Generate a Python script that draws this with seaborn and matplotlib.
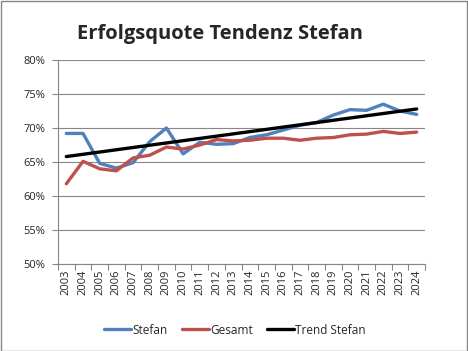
import matplotlib
matplotlib.use("Agg")
import matplotlib.pyplot as plt
import seaborn as sns
import pandas as pd
import numpy as np
from matplotlib.ticker import FuncFormatter, MultipleLocator, FixedLocator

years = list(range(2003, 2025))
stefan = [69.2, 69.2, 64.8, 64.1, 64.9, 68.0, 70.0, 66.2, 67.9, 67.6, 67.7, 68.6,
          69.0, 69.7, 70.4, 70.8, 71.9, 72.7, 72.6, 73.5, 72.5, 72.0]
gesamt = [61.8, 65.1, 64.0, 63.7, 65.6, 66.0, 67.2, 66.9, 67.5, 68.3, 68.1, 68.2,
          68.5, 68.5, 68.2, 68.5, 68.6, 69.0, 69.1, 69.5, 69.2, 69.4]
trend_years = [2003, 2024]
trend_values = [65.8, 72.8]

sns.set_theme(style="white")
plt.rcParams['font.family'] = ['Open Sans', 'DejaVu Sans']

fig = plt.figure(figsize=(4.68, 3.51), dpi=100)
ax = fig.add_axes([58/468, 1-264/351, 367/468, 204/351])

df = pd.DataFrame({"Jahr": years, "Stefan": stefan, "Gesamt": gesamt})
sns.lineplot(data=df, x="Jahr", y="Stefan", ax=ax, color="#4F81BD", linewidth=2.4, label="Stefan")
sns.lineplot(data=df, x="Jahr", y="Gesamt", ax=ax, color="#C0504D", linewidth=2.4, label="Gesamt")
tdf = pd.DataFrame({"Jahr": trend_years, "Trend": trend_values})
sns.lineplot(data=tdf, x="Jahr", y="Trend", ax=ax, color="black", linewidth=2.4, label="Trend Stefan")

ax.set_xlim(2002.5, 2024.5)
ax.set_ylim(50, 80)
ax.yaxis.set_major_locator(MultipleLocator(5))
ax.yaxis.set_major_formatter(FuncFormatter(lambda v, p: f"{int(round(v))}%"))
ax.set_xticks(years)
ax.set_xticklabels([str(y) for y in years], rotation=90, fontsize=8)
ax.xaxis.set_minor_locator(FixedLocator([y + 0.5 for y in [2002] + years]))
ax.tick_params(axis='x', which='major', length=0, pad=4)
ax.tick_params(axis='x', which='minor', length=4, color='#868686', width=0.8, direction='out', bottom=True)
ax.tick_params(axis='y', which='major', length=4, color='#868686', width=0.8, direction='out', left=True, labelsize=8, pad=5)
ax.set_xlabel("")
ax.set_ylabel("")
ax.grid(axis='y', color='#868686', linewidth=0.8)
ax.set_axisbelow(True)
for s in ['top', 'right']:
    ax.spines[s].set_visible(False)
for s in ['left', 'bottom']:
    ax.spines[s].set_color('#868686')
    ax.spines[s].set_linewidth(0.8)

leg = ax.legend(loc='center', bbox_to_anchor=(235/468, 1-330/351), bbox_transform=fig.transFigure,
                ncol=3, frameon=False, fontsize=8.5, handlelength=2.3, handletextpad=0.1, columnspacing=1.2)

fig.text(220/468, 1-34/351, "Erfolgsquote Tendenz Stefan", ha='center', va='center',
         fontsize=14.5, fontweight='bold')

fig.patches.append(plt.Rectangle((0.5/468, 0.5/351), 1-1.5/468, 1-1.5/351, transform=fig.transFigure,
                                 fill=False, edgecolor='#868686', linewidth=1))
fig.savefig("out.png", dpi=100)
